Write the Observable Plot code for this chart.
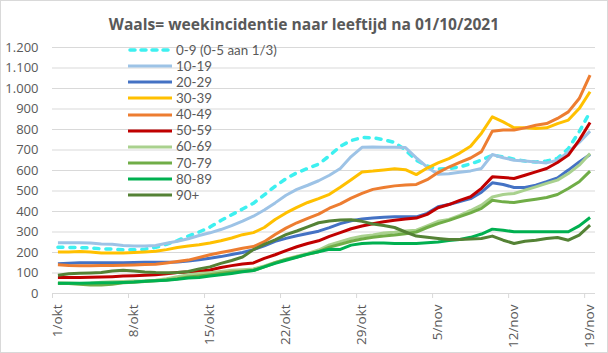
<!DOCTYPE html>
<html>
<head>
<meta charset="utf-8">
<script src="https://cdn.jsdelivr.net/npm/d3@7"></script>
<script src="https://cdn.jsdelivr.net/npm/@observablehq/plot@0.6"></script>
<style>
  body { margin: 0; background: #fff; }
  #wrap { position: relative; width: 608px; height: 353px; overflow: hidden; font-family: "Open Sans", sans-serif; background: #fff; }
  #title { position: absolute; left: 0; top: 12px; width: 608px; text-align: center; font-weight: bold; font-size: 15.6px; color: #595959; line-height: 24px; }
  #legend { position: absolute; left: 128px; top: 42px; }
  .item { display: flex; align-items: center; height: 16.15px; overflow: visible; }
  .item svg { display: block; flex: none; }
  .item span { display: inline-block; margin-left: 4px; font-family: Lato, "Open Sans", sans-serif; font-size: 13.4px; color: #595959; height: 15px; line-height: 15px; white-space: nowrap; }
  #border { position: absolute; left: 0; top: 0; width: 606px; height: 351px; border: 1px solid #d9d9d9; pointer-events: none; }
  #chart { position: absolute; left: 0; top: 0; }
</style>
</head>
<body>
<div id="wrap">
  <div id="chart"></div>
  <div id="title">Waals= weekincidentie naar leeftijd na 01/10/2021</div>
  <div id="legend"></div>
  <div id="border"></div>
</div>
<script>
// ---- data ----
const titleText = "Waals= weekincidentie naar leeftijd na 01/10/2021";
const tickDays = [0, 7, 14, 21, 28, 35, 42, 49];
const tickLabels = ["1/okt", "8/okt", "15/okt", "22/okt", "29/okt", "5/nov", "12/nov", "19/nov"];
const yTicks = [0, 100, 200, 300, 400, 500, 600, 700, 800, 900, 1000, 1100, 1200];
const yTickLabels = ["0", "100", "200", "300", "400", "500", "600", "700", "800", "900", "1.000", "1.100", "1.200"];

const seriesNames = ["0-9 (0-5 aan 1/3)", "10-19", "20-29", "30-39", "40-49", "50-59", "60-69", "70-79", "80-89", "90+"];
const seriesColors = ["#3ef0f0", "#9dc3e6", "#4472c4", "#ffc000", "#ed7d31", "#c00000", "#a9d18e", "#70ad47", "#00b050", "#548235"];

const v0_9 = [226,225,224,222,218,217,213,213,216,225,240,258,280,300,324,356,384,412,440,481,523,560,589,610,631,672,718,746,761,760,750,737,700,650,622,607,609,618,632,651,674,667,655,646,642,646,659,707,789,886];
const v10_19 = [247,247,247,246,242,240,234,232,232,234,245,255,267,283,296,312,331,353,377,407,442,479,508,528,550,577,610,668,713,715,714,713,712,662,616,582,584,591,598,610,678,662,650,646,642,637,650,691,737,792];
const v20_29 = [145,148,150,150,150,150,150,151,152,153,152,154,158,165,172,180,190,200,214,232,254,269,282,293,304,321,341,355,363,368,372,374,374,374,391,423,434,448,463,494,540,532,517,517,528,545,564,602,642,678];
const v30_39 = [202,203,205,203,198,197,197,200,203,206,214,224,232,238,246,257,271,287,297,322,361,393,420,444,463,484,518,555,593,597,603,609,604,580,612,637,658,685,718,782,862,837,808,808,805,808,829,846,902,984];
const v40_49 = [140,136,135,135,136,137,138,139,141,143,149,156,163,176,189,200,210,221,229,253,288,319,345,366,387,416,437,465,488,508,517,525,529,532,555,590,617,640,661,692,792,797,797,808,821,829,854,886,951,1065];
const v50_59 = [78,78,78,79,80,82,85,87,89,91,96,102,105,109,115,127,136,144,149,171,189,209,228,244,257,279,297,316,329,340,350,357,363,368,386,418,434,454,472,513,569,566,561,577,593,610,639,675,748,834];
const v60_69 = [52,51,49,50,55,57,59,61,62,65,72,82,92,97,101,107,113,116,120,135,152,167,182,195,212,237,253,268,279,286,295,299,305,309,330,352,361,381,405,431,471,483,488,504,520,537,553,585,626,683];
const v70_79 = [49,49,45,42,41,45,52,55,58,62,66,72,81,86,92,99,105,109,112,130,150,166,178,191,204,226,240,255,266,274,281,285,292,300,322,341,357,375,393,415,455,447,444,452,460,468,483,512,545,597];
const v80_89 = [50,50,50,51,52,53,54,56,60,62,65,69,76,78,85,91,98,106,112,130,147,162,177,192,204,216,215,236,244,246,246,244,244,244,247,251,258,263,274,290,314,309,301,301,301,301,301,301,330,371];
const v90 = [89,96,99,100,102,110,114,110,105,102,101,102,107,120,130,147,161,178,214,240,262,287,305,325,345,354,358,360,352,339,332,322,300,280,274,268,263,263,266,268,280,260,244,255,260,268,273,260,285,333];

const seriesValues = [v0_9, v10_19, v20_29, v30_39, v40_49, v50_59, v60_69, v70_79, v80_89, v90];

// ---- table ----
const rows = [];
seriesValues.forEach((vals, k) => vals.forEach((v, i) => rows.push({series: seriesNames[k], day: i, value: v})));

const lineMarks = seriesNames.map((name, k) =>
  Plot.line(rows.filter(r => r.series === name), {
    x: "day", y: "value",
    stroke: seriesColors[k],
    strokeWidth: k === 0 ? 3.5 : 3,
    strokeDasharray: k === 0 ? "5,7" : null,
    strokeLinecap: k === 0 ? "round" : "butt",
    strokeLinejoin: "round"
  })
);

const chart = Plot.plot({
  width: 608,
  height: 353,
  marginLeft: 52,
  marginRight: 13,
  marginTop: 47,
  marginBottom: 60,
  style: {fontFamily: "'Open Sans', sans-serif", fontSize: "13px", color: "#595959", background: "transparent"},
  x: {domain: [-0.5, 49.5]},
  y: {domain: [0, 1200]},
  marks: [
    Plot.gridY(yTicks, {stroke: "#d9d9d9", strokeOpacity: 1, strokeWidth: 1}),
    Plot.axisY(yTicks, {tickSize: 0, tickPadding: 14, tickFormat: (d) => yTickLabels[yTicks.indexOf(d)], label: null, fontSize: 13}),
    Plot.ruleY([0], {stroke: "#d9d9d9", strokeWidth: 1}),
    Plot.axisX(tickDays.map(d => d - 0.5), {tickSize: 5, stroke: "#d9d9d9", tickFormat: () => "", label: null}),
    Plot.axisX(tickDays, {tickSize: 0, tickPadding: 11, tickRotate: -90, tickFormat: d => tickLabels[tickDays.indexOf(d)], label: null, fontSize: 13.5}),
    ...lineMarks
  ]
});
document.getElementById("chart").appendChild(chart);

// ---- legend ----
const legend = document.getElementById("legend");
seriesNames.forEach((name, k) => {
  const item = document.createElement("div");
  item.className = "item";
  const dash = k === 0 ? 'stroke-dasharray="5,6" stroke-linecap="round"' : '';
  item.innerHTML = `<svg width="44" height="16"><line x1="${k===0?2:0}" x2="${k===0?42:44}" y1="8" y2="8" stroke="${seriesColors[k]}" stroke-width="${k===0?3.5:3}" ${dash}/></svg><span>${name}</span>`;
  legend.appendChild(item);
});
</script>
</body>
</html>
